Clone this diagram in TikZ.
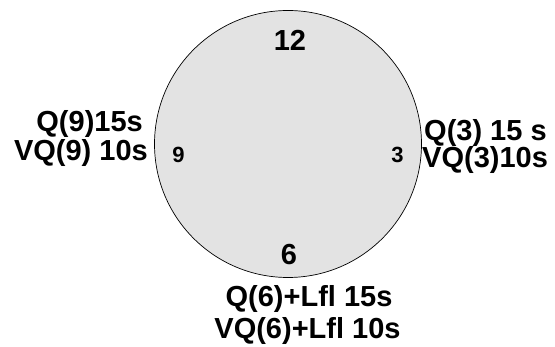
\documentclass[tikz,border=0pt]{standalone}
\usepackage{fontspec}
\setmainfont{Liberation Sans}

\definecolor{dialgray}{gray}{0.89}

\begin{document}
\begin{tikzpicture}[x=1pt, y=-1pt,
    bignum/.style={font=\fontsize{29}{29}\selectfont\bfseries, inner sep=0pt},
    smallnum/.style={font=\fontsize{22}{22}\selectfont\bfseries, inner sep=0pt},
    timing/.style={font=\fontsize{29}{29}\selectfont\bfseries, inner sep=0pt}]

    \useasboundingbox (0,0) rectangle (555,347);

    % Parameters for the clock face
    \def\cx{288}
    \def\cy{144}
    \def\rad{133.5}

    % Clock face
    \filldraw[fill=dialgray, draw=black, line width=0.7pt] (\cx,\cy) circle (\rad);

    % Hour marks
    \node[bignum, anchor=base] (twelve) at (290,51) {12};
    \node[bignum, anchor=base] (six) at (289,265) {6};
    \node[smallnum, anchor=base] (nine) at (178.5,163) {9};
    \node[smallnum, anchor=base] (three) at (397.5,163) {3};

    % Timings at 9 o'clock
    \node[timing, anchor=base east] (q9) at (143,132) {Q(9)15s};
    \node[timing, anchor=base east] (vq9) at (148,161) {VQ(9) 10s};

    % Timings at 3 o'clock
    \node[timing, anchor=base west] (q3) at (424,141) {Q(3) 15 s};
    \node[timing, anchor=base west] (vq3) at (422,168) {VQ(3)10s};

    % Timings at 6 o'clock
    \node[timing, anchor=base] (q6) at (309,307) {Q(6)+Lfl 15s};
    \node[timing, anchor=base] (vq6) at (307.5,339) {VQ(6)+Lfl 10s};

\end{tikzpicture}
\end{document}
